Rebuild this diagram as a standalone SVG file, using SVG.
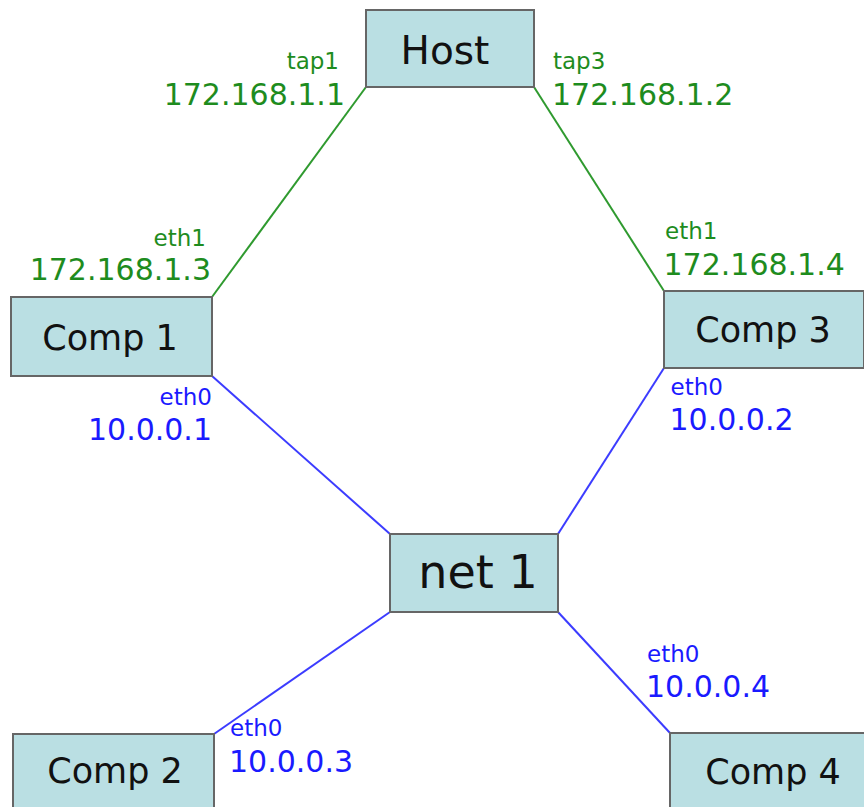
<svg xmlns="http://www.w3.org/2000/svg" width="864" height="807" viewBox="0 0 864 807">
<style>
.box{fill:#badfe3;stroke:#666;stroke-width:2}
.lbl{font-family:"DejaVu Sans",sans-serif;fill:#111;text-anchor:middle}
.g{fill:#1e8c1e;font-family:"DejaVu Sans",sans-serif}
.b{fill:#1a1aff;font-family:"DejaVu Sans",sans-serif}
.s{font-size:23px}
.ip{font-size:30px}
.e{text-anchor:end}
.gl{stroke:#2f9a2f;stroke-width:2;fill:none}
.bl{stroke:#3c3cff;stroke-width:2;fill:none}
</style>
<rect width="864" height="807" fill="#fff"/>
<g id="connectors">
<line class="gl" x1="366" y1="87" x2="212" y2="297"/>
<line class="gl" x1="534" y1="87" x2="664" y2="291"/>
<line class="bl" x1="212" y1="376" x2="390" y2="534"/>
<line class="bl" x1="664" y1="368" x2="558" y2="534"/>
<line class="bl" x1="390" y1="612" x2="214" y2="734"/>
<line class="bl" x1="558" y1="612" x2="670" y2="733"/>
</g>
<g id="host">
<rect class="box" x="366" y="10" width="168" height="77"/>
<text class="lbl" x="445" y="64" font-size="39">Host</text>
<text class="g s e" x="339" y="69">tap1</text>
<text class="g ip e" x="345" y="105">172.168.1.1</text>
<text class="g s" x="553" y="69">tap3</text>
<text class="g ip" x="552" y="105">172.168.1.2</text>
</g>
<g id="comp1">
<rect class="box" x="11" y="297" width="201" height="79"/>
<text class="lbl" x="110" y="350" font-size="35">Comp 1</text>
<text class="g s e" x="206" y="246">eth1</text>
<text class="g ip e" x="211" y="280">172.168.1.3</text>
<text class="b s e" x="212" y="405">eth0</text>
<text class="b ip e" x="212" y="440">10.0.0.1</text>
</g>
<g id="comp3">
<rect class="box" x="664" y="291" width="200" height="77"/>
<text class="lbl" x="763" y="342" font-size="35">Comp 3</text>
<text class="g s" x="665" y="239">eth1</text>
<text class="g ip" x="663.5" y="275">172.168.1.4</text>
<text class="b s" x="670.5" y="395">eth0</text>
<text class="b ip" x="669.5" y="430">10.0.0.2</text>
</g>
<g id="net1">
<rect class="box" x="390" y="534" width="168" height="78"/>
<text class="lbl" x="478" y="588" font-size="46">net 1</text>
</g>
<g id="comp2">
<rect class="box" x="13" y="734" width="201" height="90"/>
<text class="lbl" x="115" y="783" font-size="35">Comp 2</text>
<text class="b s" x="230" y="736">eth0</text>
<text class="b ip" x="229" y="772">10.0.0.3</text>
</g>
<g id="comp4">
<rect class="box" x="670" y="733" width="201" height="90"/>
<text class="lbl" x="773" y="784" font-size="35">Comp 4</text>
<text class="b s" x="647" y="662">eth0</text>
<text class="b ip" x="646" y="697">10.0.0.4</text>
</g>
</svg>
